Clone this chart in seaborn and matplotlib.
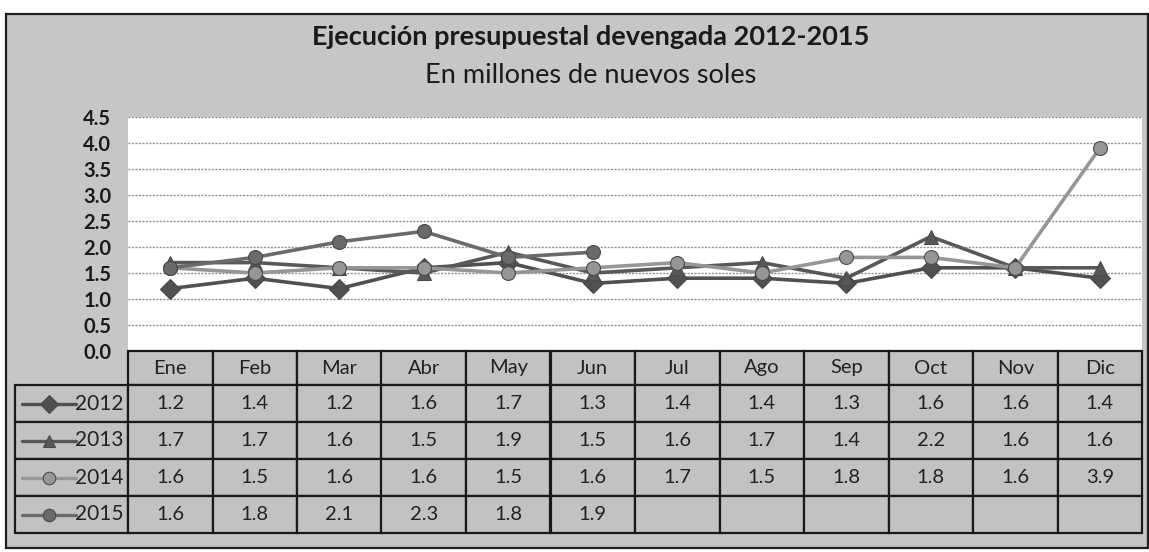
import matplotlib
matplotlib.use("Agg")
import matplotlib.pyplot as plt
import pandas as pd
import seaborn as sns
from matplotlib.table import Table
from matplotlib.lines import Line2D
from matplotlib.patches import Rectangle

# ---- data (millones de nuevos soles) ----
meses = ["Ene", "Feb", "Mar", "Abr", "May", "Jun",
         "Jul", "Ago", "Sep", "Oct", "Nov", "Dic"]
anios = ["2012", "2013", "2014", "2015"]
v2012 = [1.2, 1.4, 1.2, 1.6, 1.7, 1.3, 1.4, 1.4, 1.3, 1.6, 1.6, 1.4]
v2013 = [1.7, 1.7, 1.6, 1.5, 1.9, 1.5, 1.6, 1.7, 1.4, 2.2, 1.6, 1.6]
v2014 = [1.6, 1.5, 1.6, 1.6, 1.5, 1.6, 1.7, 1.5, 1.8, 1.8, 1.6, 3.9]
v2015 = [1.6, 1.8, 2.1, 2.3, 1.8, 1.9]
yticks = [0.0, 0.5, 1.0, 1.5, 2.0, 2.5, 3.0, 3.5, 4.0, 4.5]

series = {"2012": v2012, "2013": v2013, "2014": v2014, "2015": v2015}
records = [{"mes": i, "anio": a, "valor": v}
           for a, vals in series.items() for i, v in enumerate(vals)]
df = pd.DataFrame(records)

colores = {"2012": "#505050", "2013": "#585858", "2014": "#969696", "2015": "#6a6a6a"}
marcadores = {"2012": "D", "2013": "^", "2014": "o", "2015": "o"}

sns.set_theme(style="white")
plt.rcParams["font.family"] = ["Lato", "DejaVu Sans"]

W, H = 1149, 552
fig = plt.figure(figsize=(W / 100, H / 100), dpi=100)
fig.patch.set_facecolor("white")

# gray chart frame behind everything
fig.patches.append(Rectangle((6 / W, 4 / H), (1148 - 6) / W, (538 - 4) / H,
                             transform=fig.transFigure, facecolor="#c6c6c6",
                             edgecolor="#1e1e1e", linewidth=1.6, zorder=-10))

fig.text(591 / W, 1 - 45 / H, "Ejecución presupuestal devengada 2012-2015",
         ha="center", va="baseline", fontsize=19.5, fontweight="bold", color="#1a1a1a")
fig.text(591 / W, 1 - 83 / H, "En millones de nuevos soles",
         ha="center", va="baseline", fontsize=19.5, color="#1a1a1a")

left, right, top, bottom = 128, 1142, 117, 351
px_w = right - left
px_h = bottom - top
ax = fig.add_axes([left / W, 1 - bottom / H, px_w / W, px_h / H])
ax.set_facecolor("white")

sns.lineplot(data=df, x="mes", y="valor", hue="anio", style="anio",
             palette=colores, markers=marcadores, dashes=False,
             linewidth=2.6, markersize=10, markeredgewidth=0.8,
             markeredgecolor="#4a4a4a", legend=False, ax=ax, zorder=3)

ax.set_xlim(-0.5, len(meses) - 0.5)
ax.set_ylim(0, 4.5)
ax.set_xticks([])
ax.set_yticks(yticks)
ax.set_yticklabels([f"{t:.1f}" for t in yticks], fontsize=14.5, fontweight="bold",
                   color="#1a1a1a")
ax.tick_params(axis="y", length=0, pad=12)
ax.set_xlabel("")
ax.set_ylabel("")
ax.yaxis.grid(True, color="#8f8f8f", linewidth=1.0, linestyle=(0, (1.5, 1)))
ax.set_axisbelow(True)
for s in ax.spines.values():
    s.set_visible(False)

# ---- data table below the plot (sizes in axes fractions) ----
ty1 = 533
grid_h = (ty1 - bottom) / px_h
tabla = Table(ax, bbox=[0, -grid_h, 1, grid_h])
tabla.auto_set_font_size(False)
col_w = 1 / len(meses)
lab_w = (left - 15) / px_w
head_h = 34 / px_h
row_h = 37 / px_h
celda = "#c2c2c2"
borde = "#1a1a1a"

for j, m in enumerate(meses):
    c = tabla.add_cell(0, j, width=col_w, height=head_h, text=m, loc="center",
                       facecolor=celda, edgecolor=borde)
    c.get_text().set_fontsize(14.5)
    c.get_text().set_color("#222222")
    c.set_linewidth(1.6)

for i, a in enumerate(anios):
    c = tabla.add_cell(i + 1, -1, width=lab_w, height=row_h, text=a, loc="right",
                       facecolor=celda, edgecolor=borde)
    c.PAD = 0.04
    c.get_text().set_fontsize(15)
    c.get_text().set_color("#222222")
    c.set_linewidth(1.6)
    vals = series[a]
    for j in range(len(meses)):
        txt = f"{vals[j]:.1f}" if j < len(vals) else ""
        c = tabla.add_cell(i + 1, j, width=col_w, height=row_h, text=txt,
                           loc="center", facecolor=celda, edgecolor=borde)
        c.get_text().set_fontsize(14.5)
        c.get_text().set_color("#222222")
        c.set_linewidth(1.6)

tabla.set_clip_on(False)
tabla.set_zorder(4)
ax.add_table(tabla)

# legend keys inside the row-label cells
for i, a in enumerate(anios):
    yc = bottom + 34 + 37 * (i + 0.5)
    ya = -(yc - bottom) / px_h
    xa0 = (22 - left) / px_w
    xa1 = (76 - left) / px_w
    xm = (49 - left) / px_w
    ax.add_line(Line2D([xa0, xa1], [ya, ya], transform=ax.transAxes,
                       color=colores[a], linewidth=2.4, clip_on=False, zorder=5))
    ax.add_line(Line2D([xm], [ya], transform=ax.transAxes, marker=marcadores[a],
                       markersize=9, color=colores[a], markeredgecolor="#4a4a4a",
                       markeredgewidth=0.8, clip_on=False, zorder=6))

fig.savefig("out.png", dpi=100, facecolor=fig.get_facecolor())
